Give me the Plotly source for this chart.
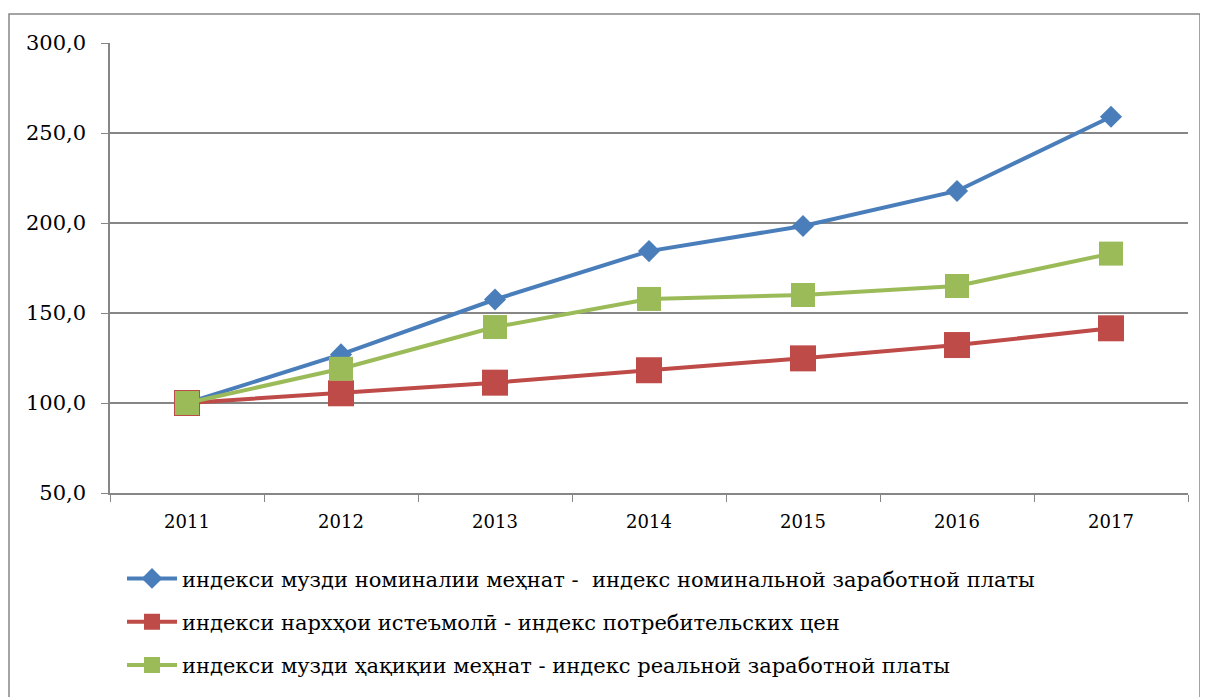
import plotly.graph_objects as go

years = ["2011", "2012", "2013", "2014", "2015", "2016", "2017"]
nominal_wage = [100.0, 127.0, 157.5, 184.4, 198.3, 217.8, 259.0]
consumer_prices = [100.0, 105.4, 111.3, 118.2, 124.8, 132.2, 141.5]
real_wage = [100.0, 119.0, 142.2, 157.8, 160.0, 165.0, 183.0]

names = [
    "индекси музди номиналии меҳнат -  индекс номинальной заработной платы",
    "индекси нархҳои истеъмолӣ - индекс потребительских цен",
    "индекси музди ҳақиқии меҳнат - индекс реальной заработной платы",
]
tick_vals = [50, 100, 150, 200, 250, 300]
tick_text = ["50,0", "100,0", "150,0", "200,0", "250,0", "300,0"]

FONT = "DejaVu Serif"

fig = go.Figure()
fig.add_trace(go.Scatter(x=years, y=nominal_wage, name=names[0], mode="lines+markers",
                         legendgroup="a",
                         line=dict(color="#4A7EBB", width=4),
                         marker=dict(symbol="diamond", size=17, color="#4A7EBB")))
fig.add_trace(go.Scatter(x=years, y=consumer_prices, name=names[1], mode="lines+markers",
                         legendgroup="b",
                         line=dict(color="#BE4B48", width=4),
                         marker=dict(symbol="square", size=26, color="#BE4B48")))
fig.add_trace(go.Scatter(x=years, y=real_wage, name=names[2], mode="lines+markers",
                         legendgroup="c",
                         line=dict(color="#9BBB59", width=4),
                         marker=dict(symbol="square", size=24, color="#9BBB59")))

L, R, T, B = 102, 28, 35, 212
PW, PH = 1208 - L - R, 697 - T - B

fig.update_layout(
    width=1208, height=697,
    margin=dict(l=L, r=R, t=T, b=B),
    paper_bgcolor="white", plot_bgcolor="white",
    font=dict(family=FONT, size=20, color="black"),
    showlegend=True,
    legend=dict(x=(122 - 8 - L) / PW, y=-0.145, xanchor="left", yanchor="top",
                font=dict(family=FONT, size=21, color="black"),
                tracegroupgap=13, itemwidth=50, bgcolor="rgba(0,0,0,0)"),
    xaxis=dict(type="category", range=[-0.5, 6.5], showgrid=False,
               showline=True, linecolor="#868686", linewidth=1.5,
               ticks="outside", tickson="boundaries", ticklen=7, tickcolor="#868686",
               ticklabelstandoff=12,
               tickfont=dict(family=FONT, size=18, color="black")),
    yaxis=dict(range=[50, 300], tickvals=tick_vals, ticktext=tick_text,
               showgrid=True, gridcolor="#868686", gridwidth=1.5,
               showline=True, linecolor="#868686", linewidth=1.5,
               ticks="outside", ticklen=7, tickcolor="#868686",
               ticklabelstandoff=11,
               tickfont=dict(family=FONT, size=21, color="black"),
               zeroline=False),
    shapes=[dict(type="rect", xref="paper", yref="paper",
                 x0=(1 - L) / PW, x1=(1192 - L) / PW,
                 y0=-0.6, y1=(PH + T - 6) / PH,
                 line=dict(color="#868686", width=1.5), fillcolor="rgba(0,0,0,0)",
                 layer="below")],
)

fig.write_html("out.html")
